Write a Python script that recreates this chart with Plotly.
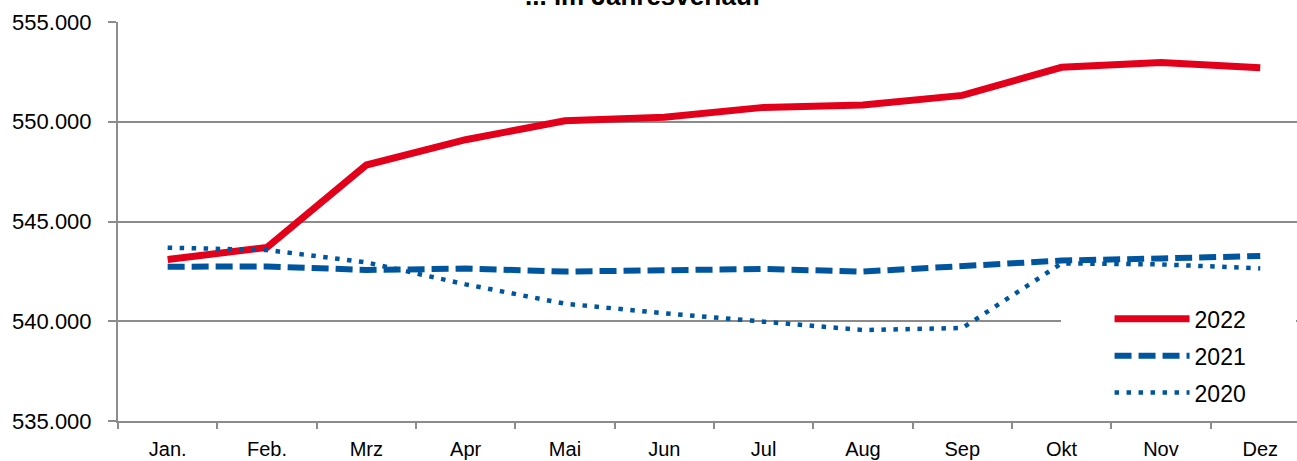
import plotly.graph_objects as go

months = ["Jan.", "Feb.", "Mrz", "Apr", "Mai", "Jun", "Jul", "Aug", "Sep", "Okt", "Nov", "Dez"]
y2022 = [543100, 543700, 547830, 549100, 550050, 550230, 550720, 550840, 551320, 552730, 552970, 552710]
y2021 = [542730, 542750, 542570, 542640, 542490, 542540, 542620, 542490, 542790, 543040, 543150, 543270]
y2020 = [543690, 543570, 542950, 541850, 540880, 540400, 539980, 539560, 539660, 542900, 542850, 542650]
series_names = ["2022", "2021", "2020"]
y_ticks = [535000, 540000, 545000, 550000, 555000]

RED = "#E2001A"
BLUE = "#00569E"
GRID = "#8C8C8C"
FONT = "Liberation Sans, Arial, sans-serif"
PAD = "\u00a0" * 7  # invisible padding so the white legend box covers the grid line

fig = go.Figure()
fig.add_trace(go.Scatter(x=months, y=y2022, name=series_names[0] + PAD, mode="lines",
                         line=dict(color=RED, width=7), legendgroup="a"))
fig.add_trace(go.Scatter(x=months, y=y2021, name=series_names[1] + PAD, mode="lines",
                         line=dict(color=BLUE, width=6, dash="17px,7px"), legendgroup="b"))
fig.add_trace(go.Scatter(x=months, y=y2020, name=series_names[2] + PAD, mode="lines",
                         line=dict(color=BLUE, width=4.5, dash="4.5px,7.5px"), legendgroup="c"))

fig.update_layout(
    width=1297, height=461,
    margin=dict(l=118, r=0, t=22, b=40, autoexpand=False),
    paper_bgcolor="white", plot_bgcolor="white",
    separators=",.",
    font=dict(family=FONT, color="black"),
    showlegend=True,
    legend=dict(x=0.80, y=0.31, xanchor="left", yanchor="top",
                bgcolor="white", font=dict(size=23, family=FONT),
                title=dict(text="\u00a0" * 6, side="left", font=dict(size=23, family=FONT)),
                itemwidth=75, tracegroupgap=4, traceorder="grouped"),
    annotations=[dict(text="<b>... im Jahresverlauf</b>", xref="paper", yref="paper",
                      x=0.445, y=1, xanchor="center", yanchor="bottom", yshift=9,
                      showarrow=False, font=dict(size=26, family=FONT, color="black"))],
)
fig.update_xaxes(
    type="category", range=[-0.5, 11.37], automargin=False,
    showgrid=False, showline=True, linecolor=GRID, linewidth=2,
    ticks="outside", tickson="boundaries", ticklen=6, tickcolor=GRID, tickwidth=2,
    tickfont=dict(size=20, family=FONT, color="black"), ticklabelstandoff=9,
)
fig.update_yaxes(
    range=[535000, 555000], tickvals=y_ticks, tickformat=",d", automargin=False,
    showgrid=True, gridcolor=GRID, gridwidth=2,
    showline=True, linecolor=GRID, linewidth=2,
    ticks="outside", ticklen=8, tickcolor=GRID, tickwidth=2,
    tickfont=dict(size=22, family=FONT, color="black"), ticklabelstandoff=12,
    zeroline=False,
)
fig.write_html("out.html", config={"displayModeBar": False},
               post_script="document.body.style.margin='0px';document.body.style.overflow='hidden';")
